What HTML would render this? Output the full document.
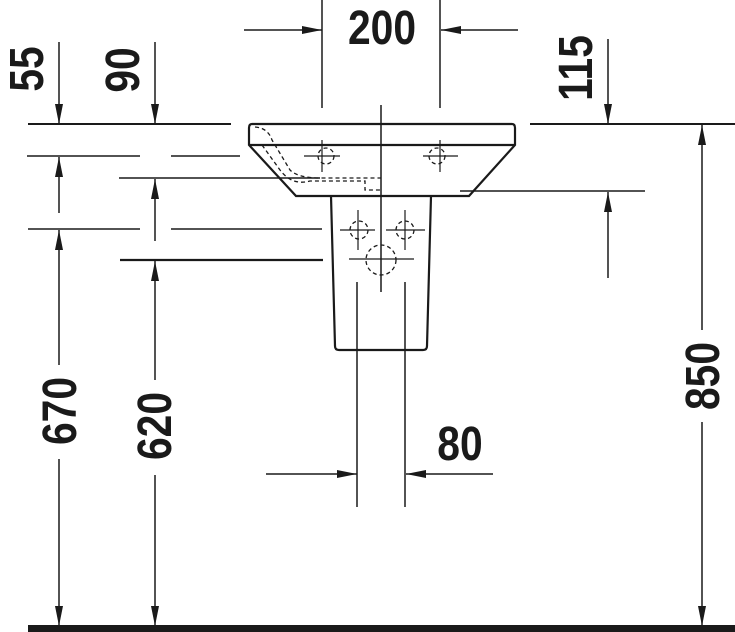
<!DOCTYPE html>
<html><head><meta charset="utf-8"><style>
html,body{margin:0;padding:0;background:#fff;}
svg{display:block}
text{font-family:"Liberation Sans",sans-serif;font-weight:bold;fill:#1a1a1a;}
</style></head><body>
<svg width="735" height="632" viewBox="0 0 735 632" xmlns="http://www.w3.org/2000/svg">
<defs>
<marker id="a" viewBox="0 0 20 8" refX="20" refY="4" markerWidth="20" markerHeight="8" markerUnits="userSpaceOnUse" orient="auto"><path d="M0,0 L20,4 L0,8 Z" fill="#1a1a1a"/></marker>
</defs>
<g stroke="#1a1a1a" stroke-width="1.5" fill="none">
<!-- 200 -->
<line x1="322" y1="0" x2="322" y2="108"/><line x1="440" y1="0" x2="440" y2="108"/>
<line x1="244" y1="30" x2="322" y2="30" marker-end="url(#a)"/>
<line x1="518" y1="30" x2="441" y2="30" marker-end="url(#a)"/>
<!-- horizontal reference lines -->
<line x1="28" y1="124" x2="231" y2="124" stroke-width="2"/>
<line x1="530" y1="124" x2="735" y2="124" stroke-width="2"/>
<line x1="27" y1="156" x2="140" y2="156"/><line x1="171" y1="156" x2="240" y2="156"/>
<line x1="119" y1="178" x2="320" y2="178"/>
<line x1="460" y1="191" x2="645" y2="191"/>
<line x1="28" y1="229" x2="140" y2="229"/><line x1="171" y1="229" x2="322" y2="229"/>
<line x1="120" y1="260" x2="323" y2="260" stroke-width="2.2"/>
<!-- 55 -->
<line x1="59" y1="42" x2="59" y2="124" marker-end="url(#a)"/>
<line x1="59" y1="213" x2="59" y2="157" marker-end="url(#a)"/>
<!-- 90 -->
<line x1="155" y1="42" x2="155" y2="124" marker-end="url(#a)"/>
<line x1="155" y1="241" x2="155" y2="179" marker-end="url(#a)"/>
<!-- 670 -->
<line x1="59" y1="365" x2="59" y2="230" marker-end="url(#a)"/>
<line x1="59" y1="459" x2="59" y2="626" marker-end="url(#a)"/>
<!-- 620 -->
<line x1="155" y1="380" x2="155" y2="261" marker-end="url(#a)"/>
<line x1="155" y1="475" x2="155" y2="626" marker-end="url(#a)"/>
<!-- 115 -->
<line x1="608" y1="39" x2="608" y2="124" marker-end="url(#a)"/>
<line x1="608" y1="278" x2="608" y2="192" marker-end="url(#a)"/>
<!-- 850 -->
<line x1="702" y1="330" x2="702" y2="125" marker-end="url(#a)"/>
<line x1="702" y1="422" x2="702" y2="626" marker-end="url(#a)"/>
<!-- 80 -->
<line x1="357" y1="282" x2="357" y2="507"/><line x1="405" y1="282" x2="405" y2="507"/>
<line x1="266" y1="474" x2="357" y2="474" marker-end="url(#a)"/>
<line x1="493" y1="474" x2="406" y2="474" marker-end="url(#a)"/>
<!-- centre line -->
<line x1="381" y1="105" x2="381" y2="292"/>
<!-- basin -->
<path d="M252,124 L512,124 Q515,124 515,128 L515,145 L469,196 L296,196 L249,145 L249,128 Q249,124 252,124 Z" stroke-width="2.2"/>
<line x1="249" y1="145" x2="515" y2="145" stroke-width="2.2"/>
<!-- pedestal -->
<path d="M331,196 L335,346 Q335,350 339,350 L423,350 Q427,350 427,346 L431,196" stroke-width="2.2"/>
<!-- overflow dashed -->
<g stroke-dasharray="4,3" stroke-width="1.3">
<path d="M255,127 Q268,128 272,140 L290,170 Q298,178 320,178 L381,178"/>
<path d="M262,145 L280,170 Q292,186 310,181 L365,181 L365,190 L381,190"/>
<circle cx="326" cy="156" r="8"/><circle cx="437" cy="156" r="8"/>
<circle cx="359" cy="230" r="9"/><circle cx="405" cy="230" r="9"/>
<circle cx="381" cy="260" r="15"/>
</g>
<g stroke-width="1.2">
<line x1="304" y1="156" x2="340" y2="156"/><line x1="322" y1="140" x2="322" y2="172"/>
<line x1="423" y1="156" x2="458" y2="156"/><line x1="440" y1="140" x2="440" y2="172"/>
<line x1="340" y1="230" x2="375" y2="230"/><line x1="358" y1="210" x2="358" y2="250"/>
<line x1="386" y1="230" x2="425" y2="230"/><line x1="405" y1="210" x2="405" y2="250"/>
<line x1="349" y1="259" x2="414" y2="259"/>
</g>
</g>
<!-- ground -->
<rect x="28" y="625" width="707" height="7" fill="#1a1a1a"/>
<!-- labels -->
<g font-size="48">
<text x="382" y="44" text-anchor="middle" transform="translate(382 0) scale(0.85 1) translate(-382 0)">200</text>
<text x="460" y="460" text-anchor="middle" transform="translate(460 0) scale(0.85 1) translate(-460 0)">80</text>
<text transform="translate(43 69) rotate(-90) scale(0.85 1)" text-anchor="middle">55</text>
<text transform="translate(139 70) rotate(-90) scale(0.85 1)" text-anchor="middle">90</text>
<text transform="translate(76 411) rotate(-90) scale(0.85 1)" text-anchor="middle">670</text>
<text transform="translate(171 426) rotate(-90) scale(0.85 1)" text-anchor="middle">620</text>
<text transform="translate(592 68) rotate(-90) scale(0.85 1)" text-anchor="middle">115</text>
<text transform="translate(719 376) rotate(-90) scale(0.85 1)" text-anchor="middle">850</text>
</g>
</svg>
</body></html>
